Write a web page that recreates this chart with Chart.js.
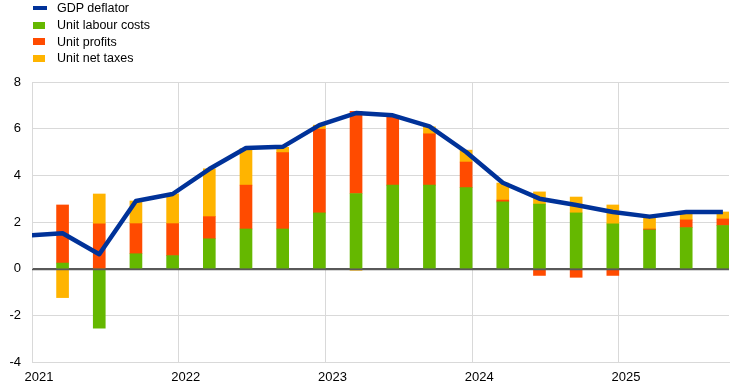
<!DOCTYPE html>
<html>
<head>
<meta charset="utf-8">
<script src="https://cdn.jsdelivr.net/npm/chart.js@4.4.1/dist/chart.umd.min.js"></script>
<style>
  html, body { margin: 0; padding: 0; background: #fff; }
  #wrap { position: relative; width: 743px; height: 390px; }
  #legend { position: absolute; left: 33px; top: 0; font: 12.5px Arial, 'Liberation Sans', sans-serif; color: #000; }
  .legend-item { height: 16.7px; display: flex; align-items: center; white-space: nowrap; }
  .swatch { width: 12px; height: 7px; margin-right: 12px; }
  .swatch--line { width: 14px; height: 4px; margin-right: 10px; }
</style>
</head>
<body>
<div id="wrap">
  <canvas id="chart" width="743" height="390"></canvas>
  <div id="legend"></div>
</div>
<script>
// Quarterly data, annual % changes and contributions in pp
const quarters = ['2020Q4',
  '2021Q1', '2021Q2', '2021Q3', '2021Q4',
  '2022Q1', '2022Q2', '2022Q3', '2022Q4',
  '2023Q1', '2023Q2', '2023Q3', '2023Q4',
  '2024Q1', '2024Q2', '2024Q3', '2024Q4',
  '2025Q1', '2025Q2', '2025Q3'];
const gdpDeflator = [1.41, 1.52, 0.62, 2.90, 3.20, 4.27, 5.17, 5.22, 6.15, 6.67, 6.57, 6.10, 5.00, 3.68, 3.00, 2.73, 2.43, 2.23, 2.43, 2.43];
// contributions start in 2021Q1
const unitLabourCosts = [0.24, -2.55, 0.64, 0.56, 1.28, 1.70, 1.70, 2.39, 3.22, 3.58, 3.58, 3.47, 2.86, 2.77, 2.39, 1.92, 1.66, 1.76, 1.85];
const unitProfits = [2.49, 1.92, 1.29, 1.37, 0.95, 1.88, 3.27, 3.59, 3.52, 2.95, 2.20, 1.10, 0.08, -0.29, -0.37, -0.29, 0.04, 0.33, 0.28];
const unitNetTaxes = [-1.24, 1.28, 0.97, 1.27, 2.05, 1.57, 0.23, 0.17, -0.07, 0.03, 0.30, 0.51, 0.73, 0.52, 0.68, 0.81, 0.53, 0.34, 0.30];
const yearTicks = [2021, 2022, 2023, 2024, 2025];
const yTicks = [-4, -2, 0, 2, 4, 6, 8];

const colors = { deflator: '#003299', labour: '#65b800', profits: '#ff4b00', taxes: '#ffb400' };
const tickFont = { family: "Arial, 'Liberation Sans', sans-serif", size: 13 };

// each quarter is plotted in the middle of its last month
function quarterPos(q) {
  const year = Number(q.slice(0, 4));
  const n = Number(q.slice(5));
  return year + (3 * n - 0.5) / 12;
}

const barQuarters = quarters.slice(1);
const toPoints = (qs, vals) => qs.map((q, i) => ({ x: quarterPos(q), y: vals[i] }));

const series = [
  { label: 'GDP deflator', type: 'line', data: toPoints(quarters, gdpDeflator), color: colors.deflator },
  { label: 'Unit labour costs', data: toPoints(barQuarters, unitLabourCosts), color: colors.labour },
  { label: 'Unit profits', data: toPoints(barQuarters, unitProfits), color: colors.profits },
  { label: 'Unit net taxes', data: toPoints(barQuarters, unitNetTaxes), color: colors.taxes },
];

document.getElementById('legend').innerHTML = series.map(s => `
  <div class="legend-item">
    <span class="swatch ${s.type === 'line' ? 'swatch--line' : ''}" style="background:${s.color}"></span>${s.label}
  </div>`).join('');

const datasets = series.map(s => s.type === 'line' ? {
  type: 'line', label: s.label, data: s.data, stack: 'deflator', order: 0,
  borderColor: s.color, backgroundColor: s.color, borderWidth: 4.5,
  pointRadius: 0, tension: 0, borderJoinStyle: 'round',
} : {
  type: 'bar', label: s.label, data: s.data, stack: 'components', order: 1,
  backgroundColor: s.color, borderWidth: 0, barThickness: 12,
});

// zero line sits on top of the bars
const zeroLine = {
  id: 'zeroLine',
  afterDatasetsDraw(chart) {
    const { ctx, chartArea, scales } = chart;
    const y = Math.round(scales.y.getPixelForValue(0)) + 0.5;
    ctx.save();
    ctx.strokeStyle = '#595959';
    ctx.lineWidth = 1.5;
    ctx.beginPath();
    ctx.moveTo(chartArea.left, y);
    ctx.lineTo(chartArea.right, y);
    ctx.stroke();
    ctx.restore();
  },
};

new Chart(document.getElementById('chart').getContext('2d'), {
  type: 'bar',
  data: { datasets },
  plugins: [zeroLine],
  options: {
    responsive: false, animation: false,
    layout: { padding: { top: 82, right: 14, left: 0, bottom: 0 } },
    plugins: { legend: { display: false }, tooltip: { enabled: false } },
    scales: {
      x: {
        type: 'linear', min: 2021, max: 2025.75, offset: false, stacked: true,
        grid: { offset: false, color: '#d9d9d9', drawTicks: false },
        border: { color: '#d9d9d9' },
        afterBuildTicks: s => { s.ticks = yearTicks.map(v => ({ value: v })); },
        afterFit: s => { s.height = 28; },
        ticks: { callback: v => String(v), labelOffset: 7, padding: 8, maxRotation: 0, autoSkip: false, color: '#000', font: tickFont },
      },
      y: {
        min: -4, max: 8, stacked: true,
        grid: {
          color: c => c.tick && c.tick.value === 0 ? '#595959' : '#d9d9d9',
          drawTicks: false,
        },
        border: { color: '#d9d9d9' },
        afterBuildTicks: s => { s.ticks = yTicks.map(v => ({ value: v })); },
        afterFit: s => { s.width = 32; },
        ticks: { padding: 11, color: '#000', font: tickFont },
      },
    },
  },
});
</script>
</body>
</html>
